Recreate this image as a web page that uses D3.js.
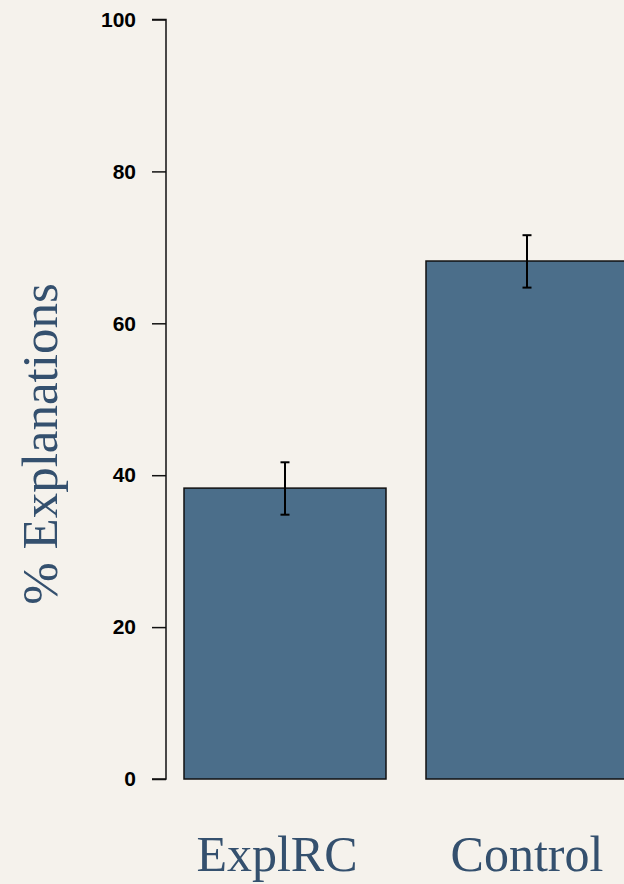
<!DOCTYPE html>
<html>
<head>
<meta charset="utf-8">
<script src="https://cdn.jsdelivr.net/npm/d3@7"></script>
<style>
  html, body { margin: 0; padding: 0; background: #f5f2ec; }
  svg { display: block; }
</style>
</head>
<body>
<div id="chart"></div>
<script>
// Share of explanations by condition, with error bars (± SE)
const categories = ["ExplRC", "Control"];
const means = [38.3, 68.2];
const errLow = [34.8, 64.7];
const errHigh = [41.7, 71.6];
const yTicks = [0, 20, 40, 60, 80, 100];

const W = 624, H = 884;
const svg = d3.select("#chart").append("svg")
  .attr("width", W).attr("height", H);

svg.append("rect").attr("width", W).attr("height", H).attr("fill", "#f5f2ec");

const y = d3.scaleLinear().domain([0, 100]).range([779, 19.5]);
const x = d3.scaleBand().domain(categories)
  .range([184, 628]).paddingInner(40 / 242).paddingOuter(0);

// y axis
const yAxis = d3.axisLeft(y).tickValues(yTicks).tickSize(14).tickPadding(16);
const gy = svg.append("g").attr("transform", "translate(166,0)").call(yAxis);
gy.select(".domain").attr("stroke", "#111").attr("stroke-width", 1.5)
  .attr("d", `M-14,${y(100)}H0V${y(0)}H-14`);
gy.selectAll(".tick line").attr("stroke", "#111").attr("stroke-width", 1.5);
gy.selectAll(".tick text")
  .attr("fill", "#000")
  .style("font-family", "'Liberation Sans', Arial, sans-serif")
  .style("font-weight", "bold")
  .style("font-size", "21px");

// bars
svg.append("g").selectAll("rect").data(categories).join("rect")
  .attr("x", d => x(d))
  .attr("y", (d, i) => y(means[i]))
  .attr("width", x.bandwidth())
  .attr("height", (d, i) => y(0) - y(means[i]))
  .attr("fill", "#4b6e8a")
  .attr("stroke", "#111")
  .attr("stroke-width", 1.5);

// error bars
const eb = svg.append("g").attr("stroke", "#000").attr("stroke-width", 2);
categories.forEach((c, i) => {
  const cx = x(c) + x.bandwidth() / 2;
  eb.append("line").attr("x1", cx).attr("x2", cx)
    .attr("y1", y(errLow[i])).attr("y2", y(errHigh[i]));
  [errLow[i], errHigh[i]].forEach(v => {
    eb.append("line").attr("x1", cx - 4.5).attr("x2", cx + 4.5)
      .attr("y1", y(v)).attr("y2", y(v));
  });
});

// category labels
svg.append("g").selectAll("text").data(categories).join("text")
  .attr("x", (d, i) => x(d) + x.bandwidth() / 2 + (i === 0 ? -8 : 0))
  .attr("y", 871)
  .attr("text-anchor", "middle")
  .attr("fill", "#34506e")
  .style("font-family", "'Liberation Serif', 'DejaVu Serif', serif")
  .style("font-size", "50px")
  .text(d => d);

// y-axis title
svg.append("text")
  .attr("transform", "translate(57,444) rotate(-90)")
  .attr("text-anchor", "middle")
  .attr("fill", "#34506e")
  .style("font-family", "'Liberation Serif', 'DejaVu Serif', serif")
  .style("font-size", "51px")
  .text("% Explanations");
</script>
</body>
</html>
